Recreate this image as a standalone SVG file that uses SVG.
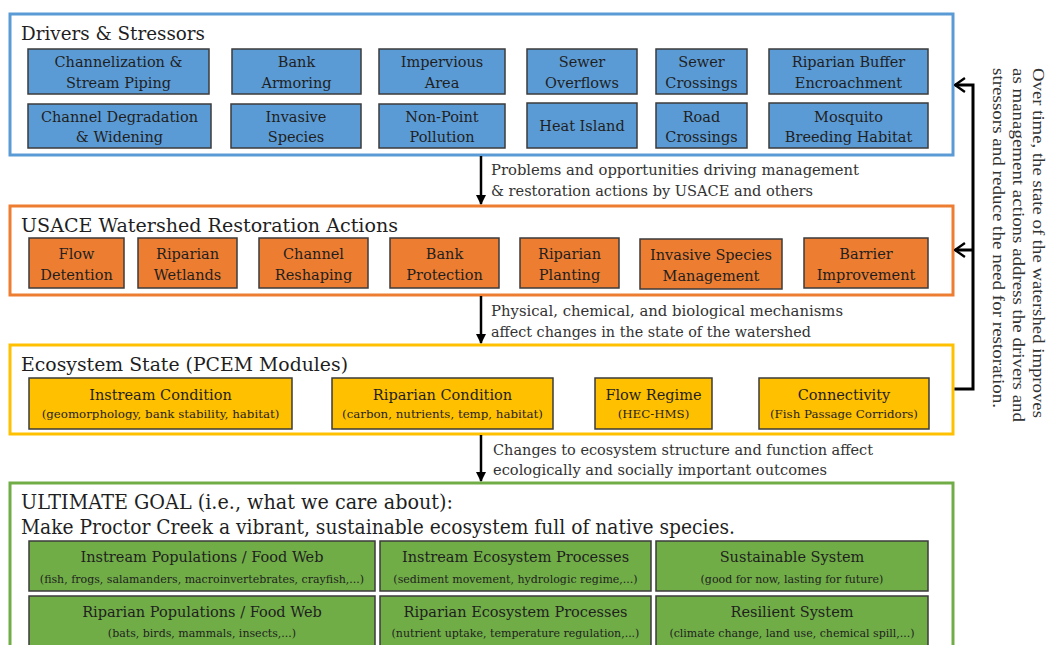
<svg xmlns="http://www.w3.org/2000/svg" width="1049" height="645" viewBox="0 0 1049 645">
  <defs>
    <style>
      text { font-family: "DejaVu Serif", "Liberation Serif", serif; fill: #1f1f1f; }
      .panel { fill: #ffffff; stroke-width: 3; }
      .node { stroke: #3b3b3b; stroke-width: 1.5; }
      .blue { fill: #5b9bd5; }
      .orange { fill: #ed7d31; }
      .yellow { fill: #ffc000; }
      .green { fill: #70ad47; }
      .ptitle { font-size: 18px; }
      .lbl { font-size: 14.5px; text-anchor: middle; }
      .sub { font-size: 11px; text-anchor: middle; }
      .ysub { font-size: 11.8px; }
      .note { font-size: 14.5px; fill: #333333; }
      .side { font-family: "Liberation Serif", "Times New Roman", serif; font-size: 17px; fill: #333333; }
      .flow { stroke: #000000; stroke-width: 2.5; fill: none; }
      .loop { stroke: #000000; stroke-width: 3; fill: none; }
    </style>
    <marker id="tri" viewBox="0 0 10 10" refX="9" refY="5" markerWidth="4" markerHeight="4" orient="auto" markerUnits="strokeWidth">
      <path d="M0,0 L10,5 L0,10 Z" fill="#000000"/>
    </marker>
    <marker id="chev" viewBox="0 0 12 16" refX="11" refY="8" markerWidth="4" markerHeight="5.3" orient="auto" markerUnits="strokeWidth">
      <path d="M1,1 L11,8 L1,15" fill="none" stroke="#000000" stroke-width="2.4"/>
    </marker>
  </defs>

  <!-- Drivers & Stressors -->
  <g id="drivers">
    <rect class="panel" x="10" y="14" width="943" height="141" stroke="#5b9bd5"/>
    <text class="ptitle" x="21" y="40" textLength="184" lengthAdjust="spacingAndGlyphs">Drivers &amp; Stressors</text>
  </g>
  <g id="d-channelization">
    <rect class="node blue" x="28" y="49" width="181" height="45"/>
    <text class="lbl" x="118.5" y="67">Channelization &amp;</text>
    <text class="lbl" x="118.5" y="88">Stream Piping</text>
  </g>
  <g id="d-bank-armoring">
    <rect class="node blue" x="232" y="49" width="129" height="45"/>
    <text class="lbl" x="296.5" y="67">Bank</text>
    <text class="lbl" x="296.5" y="88">Armoring</text>
  </g>
  <g id="d-impervious">
    <rect class="node blue" x="379" y="49" width="126" height="45"/>
    <text class="lbl" x="442" y="67">Impervious</text>
    <text class="lbl" x="442" y="88">Area</text>
  </g>
  <g id="d-sewer-overflows">
    <rect class="node blue" x="527" y="49" width="110" height="45"/>
    <text class="lbl" x="582" y="67">Sewer</text>
    <text class="lbl" x="582" y="88">Overflows</text>
  </g>
  <g id="d-sewer-crossings">
    <rect class="node blue" x="656" y="49" width="91" height="45"/>
    <text class="lbl" x="701.5" y="67">Sewer</text>
    <text class="lbl" x="701.5" y="88">Crossings</text>
  </g>
  <g id="d-riparian-buffer">
    <rect class="node blue" x="769" y="49" width="159" height="45"/>
    <text class="lbl" x="848.5" y="67">Riparian Buffer</text>
    <text class="lbl" x="848.5" y="88">Encroachment</text>
  </g>
  <g id="d-channel-degradation">
    <rect class="node blue" x="28" y="104" width="183" height="44"/>
    <text class="lbl" x="119.5" y="122">Channel Degradation</text>
    <text class="lbl" x="119.5" y="142">&amp; Widening</text>
  </g>
  <g id="d-invasive">
    <rect class="node blue" x="231" y="104" width="130" height="44"/>
    <text class="lbl" x="296" y="122">Invasive</text>
    <text class="lbl" x="296" y="142">Species</text>
  </g>
  <g id="d-nonpoint">
    <rect class="node blue" x="379" y="104" width="126" height="44"/>
    <text class="lbl" x="442" y="122">Non-Point</text>
    <text class="lbl" x="442" y="142">Pollution</text>
  </g>
  <g id="d-heat-island">
    <rect class="node blue" x="527" y="103" width="110" height="45"/>
    <text class="lbl" x="582" y="131">Heat Island</text>
  </g>
  <g id="d-road-crossings">
    <rect class="node blue" x="656" y="103" width="91" height="45"/>
    <text class="lbl" x="701.5" y="122">Road</text>
    <text class="lbl" x="701.5" y="142">Crossings</text>
  </g>
  <g id="d-mosquito">
    <rect class="node blue" x="769" y="103" width="159" height="45"/>
    <text class="lbl" x="848.5" y="122">Mosquito</text>
    <text class="lbl" x="848.5" y="142">Breeding Habitat</text>
  </g>

  <!-- USACE Watershed Restoration Actions -->
  <g id="actions">
    <rect class="panel" x="10" y="206" width="943" height="89" stroke="#ed7d31"/>
    <text class="ptitle" x="21" y="232" textLength="377" lengthAdjust="spacingAndGlyphs">USACE Watershed Restoration Actions</text>
  </g>
  <g id="a-flow-detention">
    <rect class="node orange" x="29" y="238" width="95" height="50"/>
    <text class="lbl" x="76.5" y="259">Flow</text>
    <text class="lbl" x="76.5" y="280">Detention</text>
  </g>
  <g id="a-riparian-wetlands">
    <rect class="node orange" x="138" y="238" width="99" height="50"/>
    <text class="lbl" x="187.5" y="259">Riparian</text>
    <text class="lbl" x="187.5" y="280">Wetlands</text>
  </g>
  <g id="a-channel-reshaping">
    <rect class="node orange" x="259" y="238" width="109" height="50"/>
    <text class="lbl" x="313.5" y="259">Channel</text>
    <text class="lbl" x="313.5" y="280">Reshaping</text>
  </g>
  <g id="a-bank-protection">
    <rect class="node orange" x="390" y="238" width="109" height="50"/>
    <text class="lbl" x="444.5" y="259">Bank</text>
    <text class="lbl" x="444.5" y="280">Protection</text>
  </g>
  <g id="a-riparian-planting">
    <rect class="node orange" x="520" y="238" width="99" height="50"/>
    <text class="lbl" x="569.5" y="259">Riparian</text>
    <text class="lbl" x="569.5" y="280">Planting</text>
  </g>
  <g id="a-invasive-management">
    <rect class="node orange" x="640" y="239" width="142" height="50"/>
    <text class="lbl" x="711" y="260">Invasive Species</text>
    <text class="lbl" x="711" y="281">Management</text>
  </g>
  <g id="a-barrier-improvement">
    <rect class="node orange" x="804" y="238" width="124" height="50"/>
    <text class="lbl" x="866" y="259">Barrier</text>
    <text class="lbl" x="866" y="280">Improvement</text>
  </g>

  <!-- Ecosystem State -->
  <g id="state">
    <rect class="panel" x="10" y="345" width="943" height="89" stroke="#ffc000"/>
    <text class="ptitle" x="21" y="371" textLength="327" lengthAdjust="spacingAndGlyphs">Ecosystem State (PCEM Modules)</text>
  </g>
  <g id="s-instream">
    <rect class="node yellow" x="29" y="378" width="263" height="51"/>
    <text class="lbl" x="160.5" y="400">Instream Condition</text>
    <text class="sub ysub" x="160.5" y="418">(geomorphology, bank stability, habitat)</text>
  </g>
  <g id="s-riparian">
    <rect class="node yellow" x="332" y="378" width="221" height="51"/>
    <text class="lbl" x="442.5" y="400">Riparian Condition</text>
    <text class="sub ysub" x="442.5" y="418">(carbon, nutrients, temp, habitat)</text>
  </g>
  <g id="s-flow-regime">
    <rect class="node yellow" x="595" y="378" width="117" height="51"/>
    <text class="lbl" x="653.5" y="400">Flow Regime</text>
    <text class="sub ysub" x="653.5" y="418">(HEC-HMS)</text>
  </g>
  <g id="s-connectivity">
    <rect class="node yellow" x="759" y="378" width="170" height="51"/>
    <text class="lbl" x="844" y="400">Connectivity</text>
    <text class="sub ysub" x="844" y="418">(Fish Passage Corridors)</text>
  </g>

  <!-- Ultimate goal -->
  <g id="goal">
    <rect class="panel" x="10" y="483" width="943" height="170" stroke="#70ad47"/>
    <text x="21" y="509" font-size="21" textLength="432" lengthAdjust="spacingAndGlyphs">ULTIMATE GOAL (i.e., what we care about):</text>
    <text x="21" y="534" font-size="20" textLength="714" lengthAdjust="spacingAndGlyphs">Make Proctor Creek a vibrant, sustainable ecosystem full of native species.</text>
  </g>
  <g id="g-instream-pop">
    <rect class="node green" x="29" y="541" width="346" height="50"/>
    <text class="lbl" x="202" y="562">Instream Populations / Food Web</text>
    <text class="sub" x="202" y="583">(fish, frogs, salamanders, macroinvertebrates, crayfish,...)</text>
  </g>
  <g id="g-instream-proc">
    <rect class="node green" x="380" y="541" width="271" height="50"/>
    <text class="lbl" x="515.5" y="562">Instream Ecosystem Processes</text>
    <text class="sub" x="515.5" y="583">(sediment movement, hydrologic regime,...)</text>
  </g>
  <g id="g-sustainable">
    <rect class="node green" x="656" y="541" width="272" height="50"/>
    <text class="lbl" x="792" y="562">Sustainable System</text>
    <text class="sub" x="792" y="583">(good for now, lasting for future)</text>
  </g>
  <g id="g-riparian-pop">
    <rect class="node green" x="29" y="596" width="346" height="52"/>
    <text class="lbl" x="202" y="617">Riparian Populations / Food Web</text>
    <text class="sub" x="202" y="637">(bats, birds, mammals, insects,...)</text>
  </g>
  <g id="g-riparian-proc">
    <rect class="node green" x="380" y="596" width="271" height="52"/>
    <text class="lbl" x="515.5" y="617">Riparian Ecosystem Processes</text>
    <text class="sub" x="515.5" y="637">(nutrient uptake, temperature regulation,...)</text>
  </g>
  <g id="g-resilient">
    <rect class="node green" x="656" y="596" width="272" height="52"/>
    <text class="lbl" x="792" y="617">Resilient System</text>
    <text class="sub" x="792" y="637">(climate change, land use, chemical spill,...)</text>
  </g>

  <!-- Connectors -->
  <g id="connectors">
    <line class="flow" x1="481" y1="156" x2="481" y2="204" marker-end="url(#tri)"/>
    <line class="flow" x1="481" y1="296" x2="481" y2="343" marker-end="url(#tri)"/>
    <line class="flow" x1="481" y1="435" x2="481" y2="481" marker-end="url(#tri)"/>
    <polyline class="loop" points="954.5,389 973,389 973,85 955,85" marker-end="url(#chev)"/>
    <line class="loop" x1="973" y1="250" x2="955" y2="250" marker-end="url(#chev)"/>
  </g>

  <!-- Connector captions -->
  <g id="captions">
    <text class="note" x="491" y="175" textLength="368" lengthAdjust="spacingAndGlyphs">Problems and opportunities driving management</text>
    <text class="note" x="491" y="196" textLength="322" lengthAdjust="spacingAndGlyphs">&amp; restoration actions by USACE and others</text>
    <text class="note" x="491" y="316" textLength="352" lengthAdjust="spacingAndGlyphs">Physical, chemical, and biological  mechanisms</text>
    <text class="note" x="491" y="337" textLength="320" lengthAdjust="spacingAndGlyphs">affect changes in the state of the watershed</text>
    <text class="note" x="493" y="455" textLength="380" lengthAdjust="spacingAndGlyphs">Changes to ecosystem structure and function affect</text>
    <text class="note" x="493" y="475" textLength="334" lengthAdjust="spacingAndGlyphs">ecologically and socially important outcomes</text>
  </g>

  <!-- Feedback note, set vertically -->
  <g id="feedback-note" transform="translate(1033,68) rotate(90)">
    <text class="side" x="0" y="0" textLength="350" lengthAdjust="spacingAndGlyphs">Over time, the state of the watershed improves</text>
    <text class="side" x="0" y="20" textLength="354" lengthAdjust="spacingAndGlyphs">as management actions address the drivers and</text>
    <text class="side" x="0" y="40" textLength="340" lengthAdjust="spacingAndGlyphs">stressors and reduce the need for restoration.</text>
  </g>
</svg>
